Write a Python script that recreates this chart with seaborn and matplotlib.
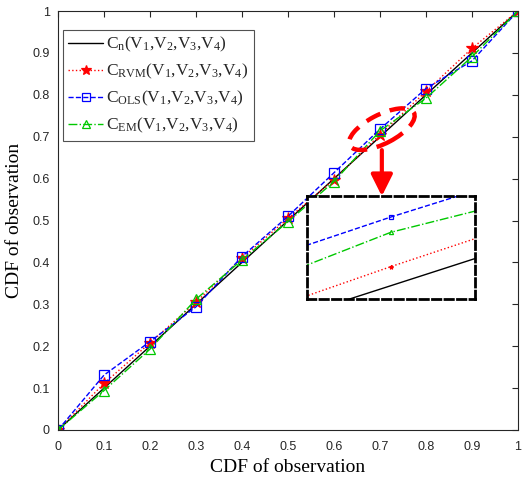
import matplotlib
matplotlib.use("Agg")
import matplotlib.pyplot as plt
from matplotlib.patches import Ellipse
import seaborn as sns
import pandas as pd

# CDF values of the four copula fits
x_cdf = [0.0, 0.1, 0.2, 0.3, 0.4, 0.5, 0.6, 0.7, 0.8, 0.9, 1.0]
c_n   = [0.0, 0.1, 0.2, 0.3, 0.4, 0.5, 0.6, 0.700, 0.8, 0.9, 1.0]
c_rvm = [0.0, 0.111, 0.208, 0.305, 0.410, 0.505, 0.597, 0.705, 0.808, 0.911, 1.0]
c_ols = [0.0, 0.131, 0.211, 0.294, 0.414, 0.510, 0.614, 0.718, 0.815, 0.881, 1.0]
c_em  = [0.0, 0.094, 0.193, 0.312, 0.406, 0.497, 0.593, 0.714, 0.792, 0.891, 1.0]

labels = [r"$\mathrm{C_n(V_1{,}V_2{,}V_3{,}V_4)}$",
          r"$\mathrm{C_{RVM}(V_1{,}V_2{,}V_3{,}V_4)}$",
          r"$\mathrm{C_{OLS}(V_1{,}V_2{,}V_3{,}V_4)}$",
          r"$\mathrm{C_{EM}(V_1{,}V_2{,}V_3{,}V_4)}$"]
tick_vals = [0, 0.1, 0.2, 0.3, 0.4, 0.5, 0.6, 0.7, 0.8, 0.9, 1]
tick_labels = ["0", "0.1", "0.2", "0.3", "0.4", "0.5", "0.6", "0.7", "0.8", "0.9", "1"]

sns.set_theme(style="white")
plt.rcParams["font.family"] = ["Liberation Sans", "DejaVu Sans"]
plt.rcParams["mathtext.fontset"] = "custom"
plt.rcParams["mathtext.rm"] = "Liberation Serif"
plt.rcParams["mathtext.it"] = "Liberation Serif:italic"
plt.rcParams["mathtext.bf"] = "Liberation Serif:bold"

df = pd.DataFrame({"x": x_cdf, "Cn": c_n, "RVM": c_rvm, "OLS": c_ols, "EM": c_em})

styles = [
    dict(col="Cn", color="black", linestyle="-", marker=None, mfc="none"),
    dict(col="RVM", color="#ff0000", linestyle=":", marker="*", mfc="#ff0000"),
    dict(col="OLS", color="#0000ff", linestyle="--", marker="s", mfc="none"),
    dict(col="EM", color="#00c800", linestyle="-.", marker="^", mfc="none"),
]

fig = plt.figure(figsize=(5.31, 4.83), dpi=100)
ax = fig.add_axes([58 / 531, 1 - 430 / 483, 460 / 531, 419 / 483])


def draw(axis, msize, with_labels):
    for st, lab in zip(styles, labels):
        kw = dict(color=st["color"], linestyle=st["linestyle"], linewidth=1.0)
        if st["marker"]:
            kw.update(marker=st["marker"], markersize=msize,
                      markerfacecolor=st["mfc"], markeredgecolor=st["color"],
                      markeredgewidth=0.9)
        sns.lineplot(data=df, x="x", y=st["col"], ax=axis, sort=False,
                     label=lab if with_labels else None, legend=False, **kw)


draw(ax, 7, True)
# the star marker reads larger
for line in ax.get_lines():
    if line.get_marker() == "*":
        line.set_markersize(9)

ax.set_xlim(0, 1)
ax.set_ylim(0, 1)
ax.set_xticks(tick_vals)
ax.set_xticklabels(tick_labels)
ax.set_yticks(tick_vals)
ax.set_yticklabels(tick_labels)
ax.tick_params(direction="in", length=4, width=0.8, colors="#262626",
               labelsize=9, top=True, right=True)
ax.tick_params(axis="x", pad=8)
ax.tick_params(axis="y", pad=6)
for sp in ax.spines.values():
    sp.set_color("#262626")
    sp.set_linewidth(0.8)
ax.set_xlabel("CDF of observation", family=["Liberation Serif"], fontsize=14,
              color="black", labelpad=4)
ax.set_ylabel("CDF of observation", family=["Liberation Serif"], fontsize=14,
              color="black", labelpad=7)

leg = ax.legend(loc="upper left", bbox_to_anchor=(0.011, 0.955), fontsize=12.5,
                frameon=True, fancybox=False, edgecolor="#262626",
                handlelength=2.0, handletextpad=0.2, labelspacing=0.45,
                borderpad=0.3, borderaxespad=0.0, markerscale=0.8)
leg.get_frame().set_linewidth(0.8)

# dashed ellipse highlighting the region near x = 0.7
ell = Ellipse((0.704, 0.718), width=0.16, height=0.068, angle=30,
              fill=False, edgecolor="red", linewidth=3.2, linestyle=(0, (3.5, 2.2)),
              transform=ax.transData, zorder=5)
ax.add_patch(ell)

# arrow down to the magnified view
ax.annotate("", xy=(0.704, 0.558), xytext=(0.704, 0.668),
            arrowprops=dict(arrowstyle="-|>,head_length=1.3,head_width=0.65",
                            mutation_scale=10, lw=3, color="red",
                            shrinkA=0, shrinkB=0), zorder=6)

# magnified view
axin = fig.add_axes([307 / 531, 1 - 299 / 483, 168 / 531, 103 / 483])
draw(axin, 3, False)
axin.set_xlim(0.6929, 0.7071)
axin.set_ylim(0.6965, 0.7235)
axin.set_xticks([])
axin.set_yticks([])
axin.set_xlabel("")
axin.set_ylabel("")
for sp in axin.spines.values():
    sp.set_linestyle((0, (3, 1.5)))
    sp.set_linewidth(2)
    sp.set_color("black")

fig.savefig("out.png", dpi=100)
